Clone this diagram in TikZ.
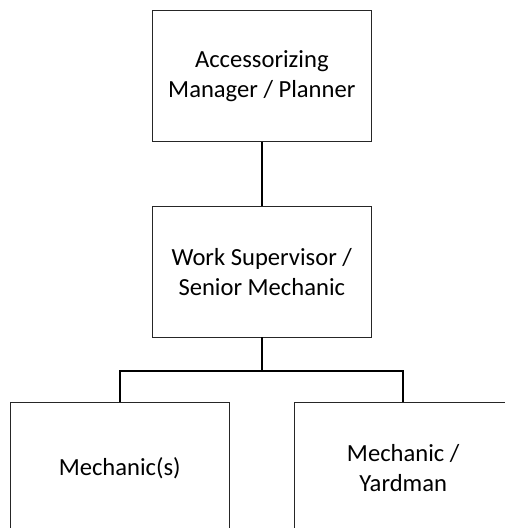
\documentclass[tikz,border=0pt]{standalone}
\usepackage{fontspec}
\setmainfont{Carlito}
\begin{document}
\begin{tikzpicture}[x=1pt,y=1pt,
  box/.style={draw=black!85, line width=0.9pt, rectangle, minimum width=218.5pt, minimum height=130.3pt,
    align=center, inner sep=0pt, font=\fontsize{24.6}{29.5}\selectfont},
  conn/.style={draw=black, line width=1.8pt}]
\useasboundingbox (0,0) rectangle (505,-528);
\clip (0,0) rectangle (505,-528);
\fill[white] (0,0) rectangle (505,-528);
\node[box] (top) at (261.8,-76) {Accessorizing\\Manager / Planner};
\node[box] (mid) at (261.8,-271.8) {Work Supervisor /\\Senior Mechanic};
\node[box] (left) at (119.7,-467.8) {Mechanic(s)};
\node[box] (right) at (403.2,-467.8) {Mechanic /\\Yardman};
\coordinate (bar) at (261.8,-370.7);
\draw[conn] (top.south) -- (mid.north);
\draw[conn] (mid.south) -- (bar);
\draw[conn] (bar) -| (left.north);
\draw[conn] (bar) -| (right.north);
\end{tikzpicture}
\end{document}
